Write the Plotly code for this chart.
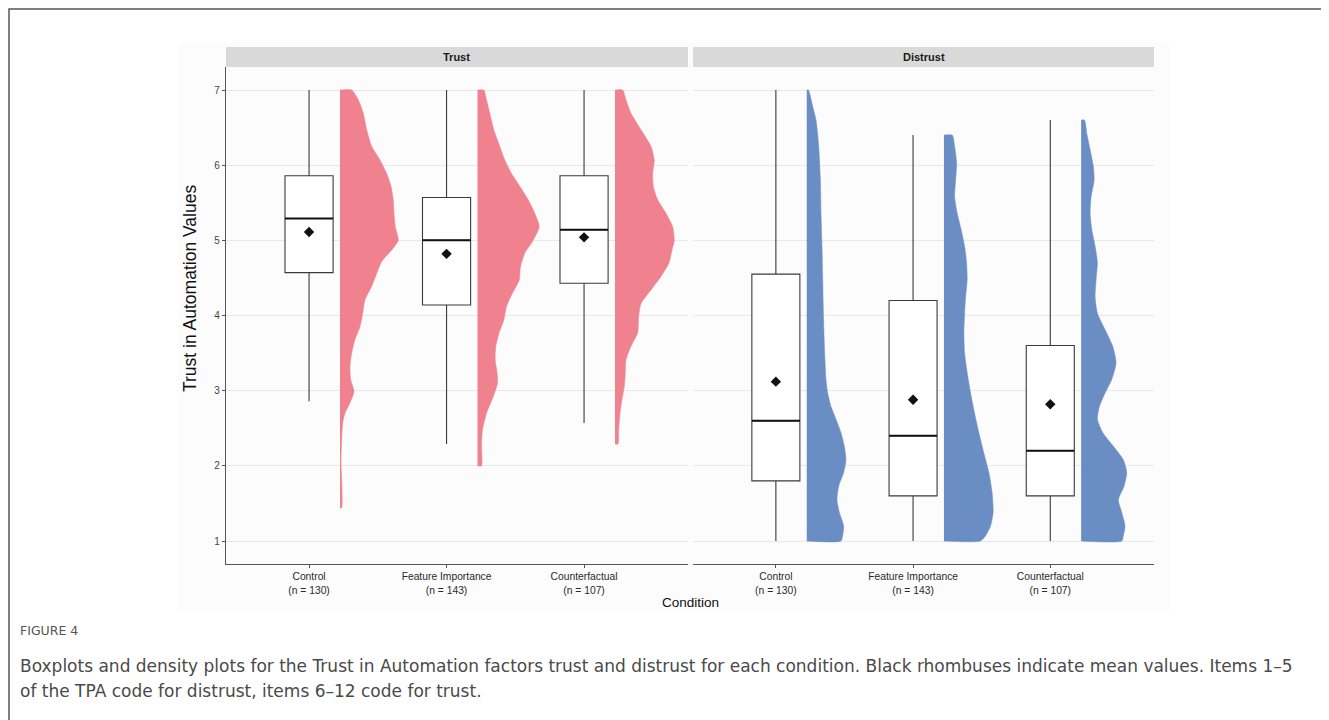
import plotly.graph_objects as go

# ---------------- data ----------------
conditions = ["Control", "Feature Importance", "Counterfactual"]
n_per_condition = [130, 143, 107]
facets = ["Trust", "Distrust"]

trust_q1 = [4.57, 4.14, 4.43]
trust_median = [5.29, 5.00, 5.14]
trust_q3 = [5.86, 5.57, 5.86]
trust_lower = [2.86, 2.29, 2.57]
trust_upper = [7.00, 7.00, 7.00]
trust_mean = [5.11, 4.82, 5.04]

distrust_q1 = [1.80, 1.60, 1.60]
distrust_median = [2.60, 2.40, 2.20]
distrust_q3 = [4.55, 4.20, 3.60]
distrust_lower = [1.00, 1.00, 1.00]
distrust_upper = [7.00, 6.40, 6.60]
distrust_mean = [3.12, 2.88, 2.82]

# density outlines (value levels, scaled density)
trust_control_y = [7.00, 6.87, 6.69, 6.47, 6.25, 6.07, 5.89, 5.72, 5.54, 5.36, 5.18, 5.00, 4.87, 4.72,
                   4.56, 4.39, 4.21, 4.03, 3.85, 3.68, 3.50, 3.32, 3.15, 2.99, 2.84, 2.70, 2.57, 2.35,
                   2.04, 1.82, 1.44]
trust_control_d = [11.7, 18.3, 23.3, 26.7, 31.7, 40, 46.7, 51, 53.3, 54, 55.3, 58.3, 51.7, 41.7,
                   36.7, 31.7, 25, 22.7, 20, 15, 11.7, 10, 10.7, 14, 10, 5, 2.7, 1.7,
                   1.0, 1.7, 1.7]
trust_fi_y = [7.00, 6.87, 6.69, 6.47, 6.25, 6.07, 5.89, 5.72, 5.54, 5.36, 5.18, 5.00, 4.83, 4.65,
              4.47, 4.30, 4.12, 3.94, 3.77, 3.59, 3.41, 3.23, 3.10, 2.92, 2.70, 2.48, 2.26, 2.00]
trust_fi_d = [6.3, 9, 12.3, 16.3, 22.3, 27.3, 34, 42.3, 50.7, 57.3, 61.7, 55.7, 47.3, 43,
              41.7, 35, 29, 26.3, 21.7, 18.3, 17.7, 19.7, 20, 15.7, 9, 5, 4, 4]
trust_cf_y = [7.00, 6.87, 6.69, 6.47, 6.25, 6.07, 5.89, 5.72, 5.54, 5.36, 5.18, 5.00, 4.87, 4.70,
              4.52, 4.34, 4.16, 3.99, 3.77, 3.59, 3.41, 3.23, 3.06, 2.88, 2.70, 2.48, 2.29]
trust_cf_d = [7.7, 11, 16, 26, 36, 39.3, 37.7, 38.3, 42.7, 51, 57.7, 59.3, 57, 54,
              46, 36, 26, 23.7, 22.7, 16, 11, 10.3, 9.3, 7, 5, 3.7, 3]

distrust_control_y = [7.00, 6.78, 6.60, 6.25, 5.80, 5.36, 4.92, 4.48, 4.03, 3.59, 3.15, 2.97, 2.79,
                      2.62, 2.44, 2.26, 2.08, 1.91, 1.73, 1.55, 1.38, 1.20, 1.07, 1.00]
distrust_control_d = [1.7, 6, 9.3, 12, 13.7, 14.3, 15.3, 16, 16.7, 17.7, 19.3, 21, 24.3,
                      29.3, 34.3, 37.7, 39.3, 37, 32, 30.3, 32.7, 37, 36, 34.3]
distrust_fi_y = [6.40, 6.25, 6.03, 5.80, 5.58, 5.36, 5.14, 4.92, 4.70, 4.48, 4.25, 4.03, 3.77, 3.50,
                 3.24, 2.97, 2.70, 2.44, 2.17, 1.91, 1.64, 1.38, 1.20, 1.07, 1.00]
distrust_fi_d = [8.3, 10.7, 12.7, 11.7, 10.7, 13.3, 17.3, 20.7, 22.7, 23.3, 21.7, 20.7, 20, 20.7,
                 23.3, 26.7, 30.7, 35, 40, 45, 48.3, 49.3, 46.7, 41.7, 36.7]
distrust_cf_y = [6.60, 6.42, 6.25, 5.98, 5.80, 5.58, 5.36, 5.14, 4.92, 4.70, 4.48, 4.25, 4.03, 3.81,
                 3.59, 3.37, 3.15, 2.97, 2.79, 2.62, 2.44, 2.26, 2.08, 1.91, 1.73, 1.55, 1.38, 1.20,
                 1.07, 1.00]
distrust_cf_d = [3.3, 5.7, 8.3, 12.3, 13, 10, 9, 10.7, 14, 16.3, 15, 14, 16.3, 24,
                 31.7, 35, 30.7, 24, 18.3, 16.3, 21.7, 32.3, 42.3, 45.7, 43, 37.3, 40.7, 44,
                 42.3, 40.7]

y_ticks = [1, 2, 3, 4, 5, 6, 7]

# ---------------- style ----------------
PAGE_OFF = 8            # default body margin of the html page
W, H = 1329 - PAGE_OFF, 720 - PAGE_OFF
FONT = "Liberation Sans, Arial, sans-serif"
CAP_FONT = "DejaVu Sans, sans-serif"
PINK = "#F0818F"
BLUE = "#6A8DC3"
BOX_W = 0.35
VIOLIN_OFFSET = 0.225
DENS_SCALE = 1 / 137.5
XRANGE = [0.396, 3.756]
YRANGE = [0.694, 7.306]

def px_x(p):
    return (p - PAGE_OFF) / W

def px_y(p):
    return 1 - (p - PAGE_OFF) / H

dom1 = [px_x(226), px_x(688)]
dom2 = [px_x(693), px_x(1154)]
ydom = [px_y(564), px_y(67)]

fig = go.Figure()
xpos = [1, 2, 3]

panels = [
    ("x", "y", PINK, trust_q1, trust_median, trust_q3, trust_lower, trust_upper, trust_mean,
     [(trust_control_y, trust_control_d), (trust_fi_y, trust_fi_d), (trust_cf_y, trust_cf_d)]),
    ("x2", "y2", BLUE, distrust_q1, distrust_median, distrust_q3, distrust_lower, distrust_upper, distrust_mean,
     [(distrust_control_y, distrust_control_d), (distrust_fi_y, distrust_fi_d), (distrust_cf_y, distrust_cf_d)]),
]

for xa, ya, col, q1, med, q3, lo, up, mean, dens in panels:
    # half violins
    for i, (yy, dd) in enumerate(dens):
        base = xpos[i] + VIOLIN_OFFSET
        xs = [base] + [base + d * DENS_SCALE for d in dd] + [base]
        ys = [yy[0]] + yy + [yy[-1]]
        fig.add_trace(go.Scatter(x=xs, y=ys, xaxis=xa, yaxis=ya, mode="lines",
                                 line=dict(color=col, width=0.5, shape="spline", smoothing=0.6),
                                 fill="toself", fillcolor=col, hoverinfo="skip", showlegend=False))
    # boxes
    fig.add_trace(go.Box(x=xpos, q1=q1, median=med, q3=q3, lowerfence=lo, upperfence=up,
                         xaxis=xa, yaxis=ya, width=BOX_W, whiskerwidth=0,
                         fillcolor="white", line=dict(color="#3a3a3a", width=1.1),
                         boxpoints=False, showlegend=False, hoverinfo="skip"))
    # thick median lines
    for i in range(3):
        fig.add_trace(go.Scatter(x=[xpos[i] - BOX_W / 2, xpos[i] + BOX_W / 2], y=[med[i], med[i]],
                                 xaxis=xa, yaxis=ya, mode="lines",
                                 line=dict(color="#111111", width=2),
                                 hoverinfo="skip", showlegend=False))
    # means
    fig.add_trace(go.Scatter(x=xpos, y=mean, xaxis=xa, yaxis=ya, mode="markers",
                             marker=dict(symbol="diamond", size=8, color="#111111"),
                             hoverinfo="skip", showlegend=False))

tick_text = [f"{c}<br>(n = {n})" for c, n in zip(conditions, n_per_condition)]
xcommon = dict(range=XRANGE, tickvals=xpos, ticktext=tick_text, showgrid=False, zeroline=False,
               showline=True, linecolor="#555555", linewidth=1.2, ticks="outside", ticklen=3,
               tickcolor="#555555", tickfont=dict(family=FONT, size=10.3, color="#2a2a2a"),
               fixedrange=True)
ycommon = dict(range=YRANGE, tickvals=y_ticks, showgrid=True, gridcolor="#e8e8e8", gridwidth=1,
               zeroline=False, domain=ydom, fixedrange=True)

fig.update_layout(
    width=W, height=H, margin=dict(l=0, r=0, t=0, b=0),
    paper_bgcolor="white", plot_bgcolor="#fdfdfd",
    xaxis=dict(domain=dom1, anchor="y", **xcommon),
    xaxis2=dict(domain=dom2, anchor="y2", **xcommon),
    yaxis=dict(anchor="x", showline=True, linecolor="#555555", linewidth=1.2, ticks="outside",
               ticklen=3, tickcolor="#555555", tickfont=dict(family=FONT, size=10, color="#444444"),
               **ycommon),
    yaxis2=dict(anchor="x2", matches="y", showticklabels=False, showline=False, ticks="", **ycommon),
)

shapes = []
# figure frame (only top and left edges fall inside the page)
shapes.append(dict(type="rect", xref="paper", yref="paper", x0=px_x(9), x1=1.3,
                   y0=-0.3, y1=px_y(9), line=dict(color="#555555", width=1.5),
                   fillcolor="rgba(0,0,0,0)", layer="below"))
# light backdrop of the embedded chart
shapes.append(dict(type="rect", xref="paper", yref="paper", x0=px_x(178), x1=px_x(1170),
                   y0=px_y(612), y1=px_y(43), line=dict(width=0), fillcolor="#fcfcfc", layer="below"))
# strips
for d in (dom1, dom2):
    shapes.append(dict(type="rect", xref="paper", yref="paper", x0=d[0], x1=d[1],
                       y0=px_y(67), y1=px_y(47), line=dict(width=0), fillcolor="#d9d9d9"))
fig.update_layout(shapes=shapes)

ann = []
for d, name in zip((dom1, dom2), facets):
    ann.append(dict(x=(d[0] + d[1]) / 2, y=px_y(57), xref="paper", yref="paper", text=f"<b>{name}</b>",
                    showarrow=False, font=dict(family=FONT, size=11, color="#1a1a1a"),
                    xanchor="center", yanchor="middle"))
ann.append(dict(x=px_x(190), y=px_y(289), xref="paper", yref="paper", text="Trust in Automation Values",
                textangle=-90, showarrow=False, font=dict(family=FONT, size=17.5, color="#111111"),
                xanchor="center", yanchor="middle"))
ann.append(dict(x=px_x(690), y=px_y(602), xref="paper", yref="paper", text="Condition",
                showarrow=False, font=dict(family=FONT, size=13.5, color="#111111"),
                xanchor="center", yanchor="middle"))
ann.append(dict(x=px_x(18), y=px_y(630), xref="paper", yref="paper", text="FIGURE 4",
                showarrow=False, font=dict(family=CAP_FONT, size=12.5, color="#555555"),
                xanchor="left", yanchor="middle"))
ann.append(dict(x=px_x(18), y=px_y(666), xref="paper", yref="paper",
                text="Boxplots and density plots for the Trust in Automation factors trust and distrust for each condition. Black rhombuses indicate mean values. Items 1\u20135",
                showarrow=False, font=dict(family=CAP_FONT, size=17, color="#4a4a4a"),
                xanchor="left", yanchor="middle"))
ann.append(dict(x=px_x(18), y=px_y(691), xref="paper", yref="paper",
                text="of the TPA code for distrust, items 6\u201312 code for trust.",
                showarrow=False, font=dict(family=CAP_FONT, size=17, color="#4a4a4a"),
                xanchor="left", yanchor="middle"))
fig.update_layout(annotations=ann)

fig.write_html("out.html")
